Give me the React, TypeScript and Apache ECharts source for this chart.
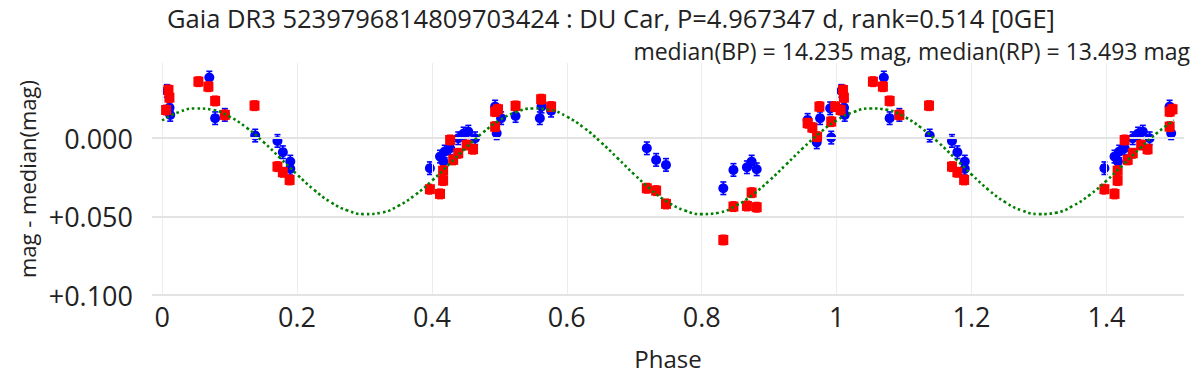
import React, { useEffect, useRef } from "react";
import * as echarts from "echarts";

const TITLE = "Gaia DR3 5239796814809703424 : DU Car, P=4.967347 d, rank=0.514 [0GE]";
const SUBTITLE = "median(BP) = 14.235 mag, median(RP) = 13.493 mag";
const X_NAME = "Phase";
const Y_NAME = "mag - median(mag)";
const X_TICKS = [0, 0.2, 0.4, 0.6, 0.8, 1, 1.2, 1.4];
const Y_TICKS = [0, 0.05, 0.1];

// Gaia BP photometry (phase in [0,1), mag - median)
const BP_PHASE = [
  0.007, 0.012, 0.011, 0.07, 0.0786, 0.093, 0.138, 0.171, 0.179, 0.19, 0.19,
  0.397, 0.412, 0.417, 0.419, 0.427, 0.439, 0.447, 0.454, 0.464,
  0.4937, 0.5026, 0.496, 0.524, 0.56, 0.5625, 0.5767,
  0.7186, 0.7324, 0.747, 0.832, 0.847, 0.867, 0.874, 0.8815,
  0.957, 0.9705, 0.9755, 0.9904, 0.992,
];
const BP_MAG = [
  -0.0302, -0.0149, -0.0195, -0.0387, -0.0128, -0.0149, -0.0017, 0.0017, 0.0089, 0.0149, 0.0195,
  0.0191, 0.0117, 0.0149, 0.0085, 0.0064, 0.0, -0.003, -0.0042, 0.0,
  -0.0202, -0.0128, -0.0032, -0.0142, -0.0128, -0.0202, -0.0176,
  0.0064, 0.0138, 0.017, 0.0319, 0.0202, 0.0185, 0.0149, 0.0198,
  -0.0117, 0.0026, -0.0128, -0.0191, -0.0004,
];
const BP_ERR = 0.004;

// Gaia RP photometry
const RP_PHASE = [
  0.0094, 0.0108, 0.0059, 0.0538, 0.0686, 0.0786, 0.093, 0.137, 0.171, 0.179, 0.189,
  0.397, 0.412, 0.4166, 0.4166, 0.427, 0.4315, 0.439, 0.4515, 0.461,
  0.4937, 0.4937, 0.498, 0.524, 0.5619, 0.5767,
  0.7186, 0.7324, 0.747, 0.832, 0.847, 0.867, 0.874, 0.8815,
  0.957, 0.964, 0.971, 0.9745, 0.992, 0.9978,
];
const RP_MAG = [
  -0.0308, -0.0259, -0.018, -0.0361, -0.0329, -0.0238, -0.0149, -0.0208, 0.0181, 0.0217, 0.0266,
  0.0325, 0.0355, 0.027, 0.0207, 0.0011, 0.0138, 0.0096, 0.0043, 0.007,
  -0.0074, -0.017, -0.0185, -0.0206, -0.0249, -0.0202,
  0.0319, 0.0334, 0.0419, 0.0649, 0.0436, 0.0432, 0.0347, 0.044,
  -0.0096, -0.0068, -0.001, -0.0202, -0.0106, -0.0202,
];
const RP_ERR = 0.003;

// Model curve over one half-phase cycle, repeated for each cycle shown
const MODEL_PHASE = [
  0, 0.025, 0.05, 0.075, 0.1, 0.125, 0.15, 0.175, 0.2, 0.225, 0.25,
  0.275, 0.3, 0.325, 0.35, 0.375, 0.4, 0.425, 0.45, 0.475, 0.5,
];
const MODEL_MAG = [
  -0.0113, -0.0167, -0.019, -0.0181, -0.0138, -0.0068, 0.0023, 0.0126, 0.0231, 0.0328, 0.0408,
  0.0461, 0.0484, 0.0475, 0.0432, 0.0362, 0.0271, 0.0168, 0.0063, -0.0034, -0.0114,
];
const MODEL_CYCLES = [0, 0.5, 1.0];

const FONT = "Open Sans";
const TEXT_COLOR = "#222";

function fold(phase: number[], mag: number[], err: number) {
  const out: number[][] = [];
  phase.forEach((p, i) => out.push([p, mag[i], err]));
  phase.forEach((p, i) => {
    if (p < 0.5) out.push([p + 1, mag[i], err]);
  });
  return out;
}

function modelData() {
  const out: number[][] = [];
  MODEL_CYCLES.forEach((c, ci) => {
    MODEL_PHASE.forEach((p, i) => {
      if (ci > 0 && i === 0) return;
      out.push([p + c, MODEL_MAG[i]]);
    });
  });
  return out;
}

function errorBars(color: string, z: number) {
  return (data: number[][]) => ({
    type: "custom",
    z,
    silent: true,
    data,
    encode: { x: 0, y: 1 },
    renderItem: (params: any, api: any) => {
      const x = api.value(0);
      const y = api.value(1);
      const e = api.value(2);
      const p1 = api.coord([x, y - e]);
      const p2 = api.coord([x, y + e]);
      const cw = 3;
      const style = { stroke: color, lineWidth: 1.6 };
      return {
        type: "group",
        children: [
          { type: "line", shape: { x1: p1[0], y1: p1[1], x2: p2[0], y2: p2[1] }, style },
          { type: "line", shape: { x1: p1[0] - cw, y1: p1[1], x2: p1[0] + cw, y2: p1[1] }, style },
          { type: "line", shape: { x1: p2[0] - cw, y1: p2[1], x2: p2[0] + cw, y2: p2[1] }, style },
        ],
      };
    },
  });
}

export default function App() {
  const ref = useRef<HTMLDivElement>(null);
  useEffect(() => {
    if (!ref.current) return;
    const chart = echarts.init(ref.current, undefined, { renderer: "svg" });
    const bp = fold(BP_PHASE, BP_MAG, BP_ERR);
    const rp = fold(RP_PHASE, RP_MAG, RP_ERR);
    const hGrid = "#e3e3e3";
    const vGrid = "#ececec";
    chart.setOption({
      animation: false,
      textStyle: { fontFamily: FONT },
      grid: { left: 152, right: 12, top: 63, bottom: 93, containLabel: false },
      graphic: [
        {
          type: "text",
          left: 167,
          top: 5,
          style: { text: TITLE, fontSize: 25.5, lineHeight: 25.5, fontFamily: FONT, fill: TEXT_COLOR },
        },
        {
          type: "text",
          right: 6,
          top: 39,
          style: { text: SUBTITLE, fontSize: 23, lineHeight: 23, fontFamily: FONT, fill: TEXT_COLOR },
        },
      ],
      xAxis: {
        type: "value",
        min: -0.015,
        max: 1.515,
        name: X_NAME,
        nameLocation: "middle",
        nameGap: 51,
        nameTextStyle: { fontSize: 24, fontFamily: FONT, color: TEXT_COLOR },
        axisLine: { show: false },
        axisTick: { show: false },
        splitLine: { show: false },
        axisLabel: {
          customValues: X_TICKS,
          fontSize: 27,
          fontFamily: FONT,
          color: TEXT_COLOR,
          margin: 8,
          formatter: (v: number) => String(Math.round(v * 10) / 10),
        },
      },
      yAxis: {
        type: "value",
        inverse: true,
        min: -0.048,
        max: 0.1,
        name: Y_NAME,
        nameLocation: "middle",
        nameGap: 114,
        nameTextStyle: { fontSize: 22, fontFamily: FONT, color: TEXT_COLOR },
        axisLine: { show: false },
        axisTick: { show: false },
        splitLine: { show: false },
        axisLabel: {
          customValues: Y_TICKS,
          fontSize: 27,
          fontFamily: FONT,
          color: TEXT_COLOR,
          margin: 19,
          formatter: (v: number) => (Math.abs(v) < 1e-9 ? "0.000" : "+" + v.toFixed(3)),
        },
      },
      series: [
        {
          type: "line",
          data: [],
          silent: true,
          markLine: {
            silent: true,
            symbol: "none",
            label: { show: false },
            animation: false,
            data: [
              ...X_TICKS.map((v) => ({ xAxis: v, lineStyle: { color: vGrid, width: 1, type: "solid" } })),
              ...Y_TICKS.map((v) => ({ yAxis: v, lineStyle: { color: hGrid, width: 2, type: "solid" } })),
            ],
          },
        },
        errorBars("#0000ff", 2)(bp),
        {
          type: "scatter",
          name: "BP",
          z: 3,
          data: bp.map((d) => [d[0], d[1]]),
          symbol: "circle",
          symbolSize: 10,
          itemStyle: { color: "#0000ff", opacity: 1 },
        },
        errorBars("#ff0000", 4)(rp),
        {
          type: "scatter",
          name: "RP",
          z: 5,
          data: rp.map((d) => [d[0], d[1]]),
          symbol: "rect",
          symbolSize: 10,
          itemStyle: { color: "#ff0000", opacity: 1 },
        },
        {
          type: "line",
          name: "model",
          z: 6,
          data: modelData(),
          smooth: true,
          showSymbol: false,
          symbol: "none",
          silent: true,
          lineStyle: { color: "#008000", width: 2.6, type: [2.6, 2.8] },
        },
      ],
    });
    return () => chart.dispose();
  }, []);
  return (
    <div
      ref={ref}
      style={{ position: "fixed", left: 0, top: 0, width: 1196, height: 388, background: "#fff" }}
    />
  );
}
